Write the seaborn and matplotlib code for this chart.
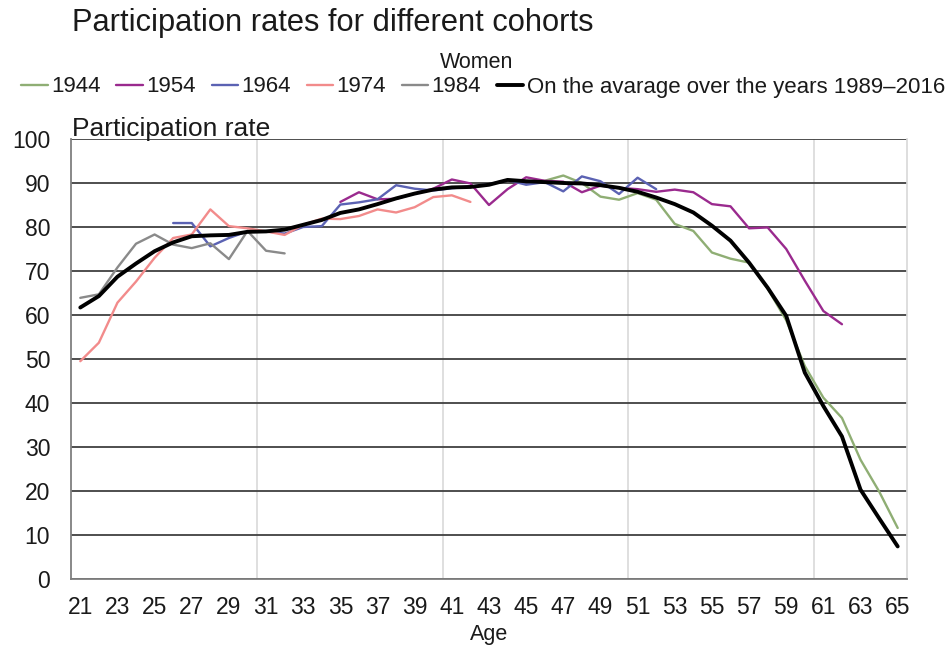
import pandas as pd
import seaborn as sns
import matplotlib.pyplot as plt
from matplotlib.lines import Line2D

# Participation rate (%) by age, women
ages = list(range(21, 66))
avg_1989_2016 = [61.7, 64.3, 68.7, 71.7, 74.5, 76.5, 77.9, 78.1, 78.2, 78.9,
                 79.0, 79.4, 80.5, 81.6, 83.2, 84.0, 85.2, 86.5, 87.6, 88.5,
                 89.0, 89.1, 89.6, 90.7, 90.4, 90.2, 90.0, 89.9, 89.5, 88.9,
                 88.0, 86.7, 85.2, 83.3, 80.3, 76.9, 71.9, 66.2, 59.8, 46.9,
                 39.3, 32.4, 20.3, 13.8, 7.4]

ages_1944 = list(range(45, 66))
rate_1944 = [90.3, 90.5, 91.7, 90.0, 86.9, 86.2, 87.7, 86.2, 80.7, 79.1,
             74.2, 72.8, 71.9, 66.0, 58.8, 48.4, 41.2, 36.6, 27.1, 19.9, 11.6]

ages_1954 = list(range(35, 63))
rate_1954 = [85.7, 87.9, 86.3, 86.4, 87.6, 88.7, 90.8, 89.9, 85.0, 88.6,
             91.3, 90.5, 90.3, 87.9, 89.4, 88.9, 88.6, 88.0, 88.5, 87.9,
             85.2, 84.7, 79.7, 79.9, 75.0, 67.8, 60.9, 57.9]

ages_1964 = list(range(26, 53))
rate_1964 = [80.9, 80.9, 75.6, 77.5, 79.0, 79.0, 78.5, 80.0, 80.2, 85.1,
             85.6, 86.3, 89.5, 88.7, 88.3, 88.8, 89.2, 89.7, 90.7, 89.6,
             90.2, 88.1, 91.5, 90.4, 87.5, 91.2, 88.6]

ages_1974 = list(range(21, 43))
rate_1974 = [49.5, 53.7, 62.8, 67.6, 73.0, 77.5, 78.3, 84.0, 80.2, 79.7,
             79.0, 78.2, 80.5, 81.9, 81.8, 82.5, 84.0, 83.3, 84.5, 86.8,
             87.2, 85.7]

ages_1984 = list(range(21, 33))
rate_1984 = [63.9, 64.7, 70.8, 76.2, 78.3, 76.0, 75.2, 76.3, 72.7, 79.1,
             74.6, 74.0]

cohorts = ["1944", "1954", "1964", "1974", "1984"]
cohort_ages = [ages_1944, ages_1954, ages_1964, ages_1974, ages_1984]
cohort_rates = [rate_1944, rate_1954, rate_1964, rate_1974, rate_1984]
colors = ["#8fae74", "#9a2a8e", "#5b62b3", "#f28b8b", "#8a8a8a"]
avg_label = "On the avarage over the years 1989\u20132016"

df = pd.concat([pd.DataFrame({"age": a, "rate": r, "cohort": c})
                for c, a, r in zip(cohorts, cohort_ages, cohort_rates)],
               ignore_index=True)

sns.set_theme(style="white")
plt.rcParams["font.family"] = ["Liberation Sans", "DejaVu Sans"]

fig = plt.figure(figsize=(9.53, 6.52), dpi=100)
ax = fig.add_axes([0.0745, 0.112, 0.8772, 0.6748])

sns.lineplot(data=df, x="age", y="rate", hue="cohort", hue_order=cohorts,
             palette=dict(zip(cohorts, colors)), linewidth=1.7,
             estimator=None, legend=False, ax=ax)
sns.lineplot(x=ages, y=avg_1989_2016, color="black", linewidth=2.8, ax=ax)

ax.set_xlim(20.5, 65.5)
ax.set_ylim(0, 100)
ax.set_xticks(range(21, 66, 2))
ax.set_yticks(range(0, 101, 10))
ax.set_xticks([30.5, 40.5, 50.5, 60.5], minor=True)
ax.tick_params(axis="both", which="both", length=0, labelsize=16.5,
               colors="#1a1a1a")
ax.tick_params(axis="y", pad=15)
ax.tick_params(axis="x", pad=12)
ax.yaxis.grid(True, color="#404040", linewidth=1.3)
ax.xaxis.grid(True, which="minor", color="#d9d9d9", linewidth=1.2)
ax.xaxis.grid(False, which="major")
ax.set_axisbelow(True)
for side in ["left", "bottom"]:
    ax.spines[side].set_color("#7f7f7f")
    ax.spines[side].set_linewidth(1.3)
ax.spines["right"].set_color("#d9d9d9")
ax.spines["top"].set_visible(False)
ax.set_ylabel("")
ax.set_xlabel("Age", fontsize=15.5, labelpad=4, color="#1a1a1a")

fig.text(0.0755, 1 - 23 / 652, "Participation rates for different cohorts",
         fontsize=22.2, va="center", ha="left", color="#1a1a1a")
fig.text(0.5, 1 - 62 / 652, "Women", fontsize=15.5, va="center",
         ha="center", color="#1a1a1a")
fig.text(0.0755, 1 - 129 / 652, "Participation rate", fontsize=19,
         va="center", ha="left", color="#1a1a1a")

handles = [Line2D([], [], color=c, linewidth=1.7) for c in colors]
handles.append(Line2D([], [], color="black", linewidth=2.8))
fig.legend(handles, cohorts + [avg_label], loc="center",
           bbox_to_anchor=(0.507, 1 - 87 / 652), ncol=6, frameon=False,
           fontsize=16, handlelength=1.2, handletextpad=0.15,
           columnspacing=0.7, labelcolor="#1a1a1a", borderpad=0.2)

fig.savefig("out.png", dpi=100)
